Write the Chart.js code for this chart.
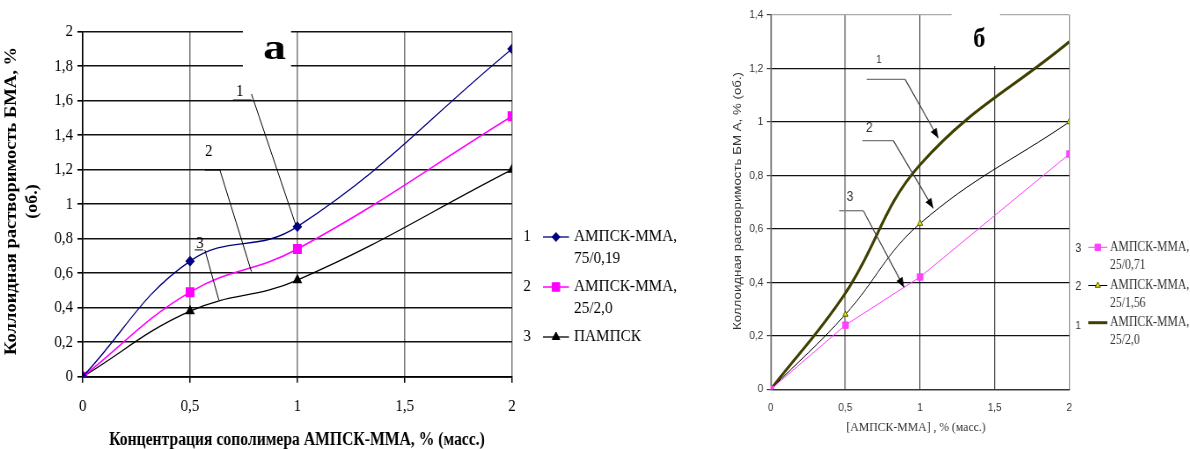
<!DOCTYPE html>
<html>
<head>
<meta charset="utf-8">
<script src="https://cdn.jsdelivr.net/npm/chart.js@4/dist/chart.umd.min.js"></script>
<style>
  html, body { margin: 0; padding: 0; background: #fff; }
  body { width: 1190px; height: 449px; position: relative; overflow: hidden; }
  .panel { position: absolute; top: 0; transform-origin: 0 0; }
  #panelA { left: 0; width: 790px; height: 449px; transform: scaleX(0.88); }
  #panelB { left: 700px; width: 563px; height: 449px; transform: scaleX(0.87); }
</style>
</head>
<body>
<div id="panelA" class="panel"><canvas id="chartA" width="790" height="449"></canvas></div>
<div id="panelB" class="panel"><canvas id="chartB" width="563" height="449"></canvas></div>
<script>
// ---- data: panel (а) ----
const concA = [0, 0.5, 1, 2];
const amps75 = [0, 0.67, 0.87, 1.9];      // АМПСК-ММА, 75/0,19
const amps25a = [0, 0.49, 0.74, 1.51];    // АМПСК-ММА, 25/2,0
const pampsk = [0, 0.38, 0.56, 1.2];      // ПАМПСК
const xTicksA = ['0', '0,5', '1', '1,5', '2'];
const yTicksA = ['0', '0,2', '0,4', '0,6', '0,8', '1', '1,2', '1,4', '1,6', '1,8', '2'];

// ---- data: panel (б) ----
const concB = [0, 0.5, 1, 2];
const amps071 = [0, 0.24, 0.42, 0.88];    // АМПСК-ММА, 25/0,71
const amps156 = [0, 0.28, 0.62, 1.0];     // АМПСК-ММА, 25/1,56
const amps20 = [0, 0.36, 0.84, 1.3];      // АМПСК-ММА, 25/2,0
const xTicksB = ['0', '0,5', '1', '1,5', '2'];
const yTicksB = ['0', '0,2', '0,4', '0,6', '0,8', '1', '1,2', '1,4'];

const pts = (xs, ys) => xs.map((x, i) => ({ x: x, y: ys[i] }));

// text helper: optional rotation, stretch to a given length or by a factor
function txt(ctx, s, x, y, o) {
  ctx.save();
  ctx.translate(x, y);
  if (o.rot) ctx.rotate(-Math.PI / 2);
  ctx.font = o.font;
  ctx.fillStyle = o.color || '#000';
  ctx.textAlign = o.align || 'center';
  ctx.textBaseline = o.base || 'middle';
  if (o.len) { const w = ctx.measureText(s).width; ctx.scale(o.len / w, 1); }
  else if (o.sx) ctx.scale(o.sx, 1);
  ctx.fillText(s, 0, 0);
  ctx.restore();
}
function widthOf(ctx, s, font) { ctx.save(); ctx.font = font; const w = ctx.measureText(s).width; ctx.restore(); return w; }
function seg(ctx, x1, y1, x2, y2, color, w) {
  ctx.save(); ctx.strokeStyle = color; ctx.lineWidth = w;
  ctx.beginPath(); ctx.moveTo(x1, y1); ctx.lineTo(x2, y2); ctx.stroke(); ctx.restore();
}
function arrowHead(ctx, x1, y1, x2, y2, len, half) {
  const a = Math.atan2(y2 - y1, x2 - x1);
  ctx.save(); ctx.fillStyle = '#000';
  ctx.beginPath();
  ctx.moveTo(x2, y2);
  ctx.lineTo(x2 - len * Math.cos(a) + half * Math.sin(a), y2 - len * Math.sin(a) - half * Math.cos(a));
  ctx.lineTo(x2 - len * Math.cos(a) - half * Math.sin(a), y2 - len * Math.sin(a) + half * Math.cos(a));
  ctx.closePath(); ctx.fill(); ctx.restore();
}
function legendMark(ctx, x1, x2, y, ds) {
  seg(ctx, x1, y, x2, y, ds.borderColor, ds.borderWidth);
  if (ds.pointRadius > 0) {
    ctx.save();
    ctx.fillStyle = ds.backgroundColor; ctx.strokeStyle = ds.pointBorderColor || ds.borderColor;
    ctx.lineWidth = 1;
    Chart.helpers.drawPoint(ctx, { pointStyle: ds.pointStyle, radius: ds.pointRadius, rotation: 0, borderWidth: 1 }, (x1 + x2) / 2, y);
    ctx.restore();
  }
}

const serif = "'Liberation Serif', 'Times New Roman', serif";
const sans = "'Liberation Sans', Arial, sans-serif";

// ---- panel (а) ----
const calloutsA = [
  { t: '1', x: 0.732, y: 1.652, ul: [0.70, 0.786, 1.604], ln: [0.786, 1.639, 0.991, 0.885] },
  { t: '2', x: 0.587, y: 1.304, ul: [0.569, 0.642, 1.198], ln: [0.639, 1.198, 0.786, 0.609] },
  { t: '3', x: 0.546, y: 0.773, ul: [0.522, 0.561, 0.735], ln: [0.569, 0.735, 0.634, 0.445] }
];
const legendA = [
  { n: '1', lines: ['АМПСК-ММА,', '75/0,19'], ds: 0, y: 237 },
  { n: '2', lines: ['АМПСК-ММА,', '25/2,0'], ds: 1, y: 287 },
  { n: '3', lines: ['ПАМПСК'], ds: 2, y: 337 }
];

const decorA = {
  id: 'decorA',
  afterDatasetsDraw(chart) {
    const ctx = chart.ctx, xs = chart.scales.x, ys = chart.scales.y;
    const X = v => xs.getPixelForValue(v), Y = v => ys.getPixelForValue(v);
    calloutsA.forEach(c => {
      txt(ctx, c.t, X(c.x), Y(c.y), { font: '17px ' + serif });
      seg(ctx, X(c.ul[0]), Y(c.ul[2]), X(c.ul[1]), Y(c.ul[2]), '#000', 1);
      seg(ctx, X(c.ln[0]), Y(c.ln[1]), X(c.ln[2]), Y(c.ln[3]), '#000', 1);
    });
  },
  afterDraw(chart) {
    const ctx = chart.ctx;
    // panel letter on a white patch
    ctx.save(); ctx.fillStyle = '#fff'; ctx.fillRect(276, 25, 54.7, 50); ctx.restore();
    txt(ctx, 'а', 312, 50, { font: 'bold 36px ' + serif, len: 26 });
    // axis titles
    txt(ctx, 'Коллоидная растворимость БМА, %', 13.6, 201, { font: 'bold 18px ' + serif, rot: true, len: 308 });
    txt(ctx, '(об.)', 37.5, 201.5, { font: 'bold 18px ' + serif, rot: true });
    txt(ctx, 'Концентрация сополимера АМПСК-ММА, % (масс.)', 337.5, 440, { font: 'bold 18px ' + serif, len: 427 });
    // legend
    const lf = '17px ' + serif;
    const k = 117 / widthOf(ctx, 'АМПСК-ММА,', lf);
    legendA.forEach(it => {
      const ds = chart.data.datasets[it.ds];
      txt(ctx, it.n, 598.9, it.y, { font: lf });
      legendMark(ctx, 617, 646.6, it.y, ds);
      it.lines.forEach((s, j) => txt(ctx, s, 652.3, it.y + j * 21.5, { font: lf, align: 'left', sx: k }));
    });
  }
};

new Chart(document.getElementById('chartA'), {
  type: 'line',
  data: {
    datasets: [
      { label: 'АМПСК-ММА, 75/0,19', data: pts(concA, amps75), borderColor: '#000080', backgroundColor: '#000080',
        borderWidth: 1.3, pointStyle: 'rectRot', pointRadius: 4.5, tension: 0.42 },
      { label: 'АМПСК-ММА, 25/2,0', data: pts(concA, amps25a), borderColor: '#ff00ff', backgroundColor: '#ff00ff',
        borderWidth: 1.5, pointStyle: 'rect', pointRadius: 6, tension: 0.42 },
      { label: 'ПАМПСК', data: pts(concA, pampsk), borderColor: '#000', backgroundColor: '#000',
        borderWidth: 1.3, pointStyle: 'triangle', pointRadius: 5, tension: 0.42 }
    ]
  },
  options: {
    responsive: false, animation: false, devicePixelRatio: 1,
    layout: { padding: { top: 31.7, right: 208.2, bottom: 0, left: 0 } },
    plugins: { legend: { display: false }, tooltip: { enabled: false } },
    scales: {
      x: {
        type: 'linear', min: 0, max: 2,
        afterFit(s) { s.height = 72.3; s.paddingLeft = 0; s.paddingRight = 0; },
        grid: { color: '#777', lineWidth: 1.5, tickColor: '#000', tickLength: 6, drawTicks: true },
        border: { color: '#000', width: 1.8 },
        ticks: { stepSize: 0.5, padding: 14, color: '#000', font: { family: serif, size: 17 },
          maxRotation: 0, callback: (v, i) => xTicksA[i] }
      },
      y: {
        min: 0, max: 2,
        afterFit(s) { s.width = 94; s.paddingTop = 0; s.paddingBottom = 0; },
        grid: { color: '#111', lineWidth: 1.6, tickColor: '#000', tickLength: 6 },
        border: { color: '#000', width: 1.6 },
        ticks: { stepSize: 0.2, padding: 5, color: '#000', font: { family: serif, size: 17 },
          callback: (v, i) => yTicksA[i] }
      }
    }
  },
  plugins: [decorA]
});

// ---- panel (б) ----
const calloutsB = [
  { t: '1', size: 11.5, x: 0.725, y: 1.231, h: [0.643, 0.9, 1.159], ar: [0.9, 1.159, 1.123, 0.939] },
  { t: '2', size: 14, x: 0.66, y: 0.976, h: [0.614, 0.821, 0.93], ar: [0.821, 0.93, 1.089, 0.677] },
  { t: '3', size: 14, x: 0.531, y: 0.718, h: [0.459, 0.62, 0.668], ar: [0.62, 0.668, 0.893, 0.381] }
];
const legendB = [
  { n: '3', ny: 248, y: 247.3, lines: ['АМПСК-ММА,', '25/0,71'], ds: 0 },
  { n: '2', ny: 286, y: 285.5, lines: ['АМПСК-ММА,', '25/1,56'], ds: 1 },
  { n: '1', ny: 326, y: 322.7, lines: ['АМПСК-ММА,', '25/2,0'], ds: 2 }
];

const decorB = {
  id: 'decorB',
  afterDatasetsDraw(chart) {
    const ctx = chart.ctx, xs = chart.scales.x, ys = chart.scales.y;
    const X = v => xs.getPixelForValue(v), Y = v => ys.getPixelForValue(v);
    calloutsB.forEach(c => {
      txt(ctx, c.t, X(c.x), Y(c.y), { font: c.size + 'px ' + sans, color: '#333' });
      seg(ctx, X(c.h[0]), Y(c.h[2]), X(c.h[1]), Y(c.h[2]), '#777', 1.3);
      seg(ctx, X(c.ar[0]), Y(c.ar[1]), X(c.ar[2]), Y(c.ar[3]), '#444', 1.2);
      arrowHead(ctx, X(c.ar[0]), Y(c.ar[1]), X(c.ar[2]), Y(c.ar[3]), 10, 4);
    });
  },
  afterDraw(chart) {
    const ctx = chart.ctx;
    ctx.save(); ctx.fillStyle = '#fff'; ctx.fillRect(289.3, 0, 55.5, 66); ctx.restore();
    txt(ctx, 'б', 321, 40, { font: 'bold 28px ' + serif });
    txt(ctx, 'Коллоидная растворимость БМ А, % (об.)', 43.7, 201, { font: '13px ' + sans, color: '#333', rot: true, len: 258 });
    txt(ctx, '[АМПСК-ММА] , % (масс.)', 248.3, 427.5, { font: '13.5px ' + serif, color: '#333', len: 160 });
    const lf = '14px ' + serif;
    const k = 91 / widthOf(ctx, 'АМПСК-ММА,', lf);
    legendB.forEach(it => {
      const ds = chart.data.datasets[it.ds];
      txt(ctx, it.n, 434.8, it.ny, { font: (it.n === '1' ? 11.5 : 13) + 'px ' + sans, color: '#333' });
      legendMark(ctx, 446.3, 468.2, it.y, ds);
      it.lines.forEach((s, j) => txt(ctx, s, 471.3, it.y + j * 17.8, { font: lf, color: '#333', align: 'left', sx: k }));
    });
  }
};

new Chart(document.getElementById('chartB'), {
  type: 'line',
  data: {
    datasets: [
      { label: 'АМПСК-ММА, 25/0,71', data: pts(concB, amps071), borderColor: '#ff40ff', backgroundColor: '#ff40ff',
        borderWidth: 1, pointStyle: 'rect', pointRadius: 4.5, tension: 0 },
      { label: 'АМПСК-ММА, 25/1,56', data: pts(concB, amps156), borderColor: '#000', backgroundColor: '#e6e600',
        pointBorderColor: '#555500', borderWidth: 1, pointStyle: 'triangle', pointRadius: 3.5, tension: 0.4 },
      { label: 'АМПСК-ММА, 25/2,0', data: pts(concB, amps20), borderColor: '#404000', backgroundColor: '#404000',
        borderWidth: 3, pointRadius: 0, tension: 0.4 }
    ]
  },
  options: {
    responsive: false, animation: false, devicePixelRatio: 1,
    layout: { padding: { top: 15, right: 138.5, bottom: 0, left: 0 } },
    plugins: { legend: { display: false }, tooltip: { enabled: false } },
    scales: {
      x: {
        type: 'linear', min: 0, max: 2,
        afterFit(s) { s.height = 59.7; s.paddingLeft = 0; s.paddingRight = 0; },
        grid: { color: ctx => (ctx.tick && ctx.tick.value === 2 ? '#999' : '#555'), lineWidth: 1.3, drawTicks: false },
        border: { color: '#333', width: 1.2 },
        ticks: { stepSize: 0.5, padding: 12, color: '#333', font: { family: sans, size: 11.5 },
          maxRotation: 0, callback: (v, i) => xTicksB[i] }
      },
      y: {
        min: 0, max: 1.4,
        afterFit(s) { s.width = 81.3; s.paddingTop = 0; s.paddingBottom = 0; },
        grid: { color: ctx => (ctx.tick && Math.abs(ctx.tick.value - 1.4) < 1e-6 ? '#aaa' : '#111'),
          lineWidth: 1.2, tickColor: '#444', tickLength: 4.6 },
        border: { color: '#555', width: 1.3 },
        ticks: { stepSize: 0.2, padding: 4, color: '#333', font: { family: sans, size: 11.5 },
          callback: (v, i) => yTicksB[i] }
      }
    }
  },
  plugins: [decorB]
});
</script>
</body>
</html>
